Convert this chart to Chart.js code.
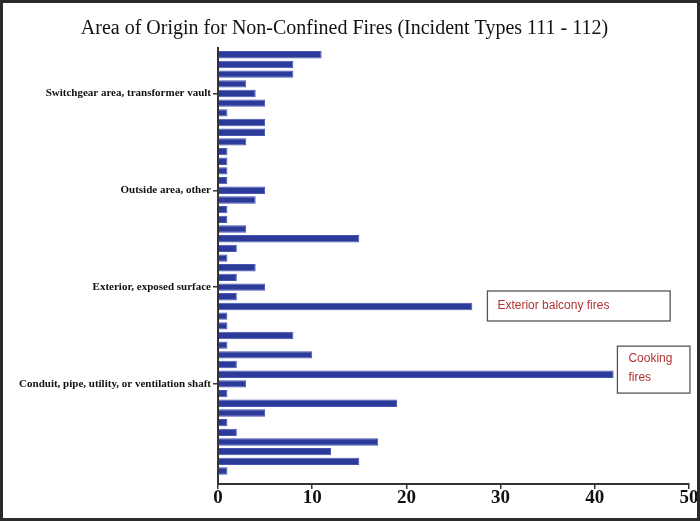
<!DOCTYPE html>
<html><head><meta charset="utf-8">
<script src="https://cdn.jsdelivr.net/npm/chart.js@4/dist/chart.umd.min.js"></script>
<style>
html,body{margin:0;padding:0;background:#fff;}
#wrap{position:relative;width:700px;height:521px;background:#fff;}
#frame{position:absolute;left:0;top:0;width:700px;height:521px;box-sizing:border-box;border:3px solid #2a2a2a;pointer-events:none;}
canvas{position:absolute;left:0;top:0;}
</style></head><body>
<div id="wrap"><canvas id="c" width="700" height="521"></canvas><div id="frame"></div></div>
<script>
// Category labels (only every 10th is printed in the original)
const categories = [
  '', '', '', '', 'Switchgear area, transformer vault', '', '', '', '', '',
  '', '', '', '', 'Outside area, other', '', '', '', '', '',
  '', '', '', '', 'Exterior, exposed surface', '', '', '', '', '',
  '', '', '', '', 'Conduit, pipe, utility, or ventilation shaft', '', '', '', '', '',
  '', '', '', ''
];
// Number of fires per area of origin (top to bottom)
const values = [
  11, 8, 8, 3, 4, 5, 1, 5, 5, 3,
  1, 1, 1, 1, 5, 4, 1, 1, 3, 15,
  2, 1, 4, 2, 5, 2, 27, 1, 1, 8,
  1, 10, 2, 42, 3, 1, 19, 5, 1, 2,
  17, 12, 15, 1
];
const xTickValues = [0, 10, 20, 30, 40, 50];
const titleText = 'Area of Origin for Non-Confined Fires (Incident Types 111 - 112)';
// Callout boxes anchored in data units
const calloutLines = [['Exterior balcony fires'], ['Cooking', 'fires']];
const calloutX = [[28.6, 48.0], [42.4, 50.1]];
const calloutY = [[24.4, 27.5], [30.1, 34.95]];

const calloutPlugin = {
  id: 'callouts',
  afterDatasetsDraw(chart) {
    const {ctx, scales: {x, y}} = chart;
    ctx.save();
    calloutLines.forEach((lines, i) => {
      const l = x.getPixelForValue(calloutX[i][0]);
      const r = x.getPixelForValue(calloutX[i][1]);
      const t = y.getPixelForValue(calloutY[i][0]);
      const b = y.getPixelForValue(calloutY[i][1]);
      ctx.fillStyle = '#fff';
      ctx.fillRect(l, t, r - l, b - t);
      ctx.strokeStyle = '#555';
      ctx.lineWidth = 1.3;
      ctx.strokeRect(l, t, r - l, b - t);
      ctx.fillStyle = '#b03434';
      ctx.font = '12px "Liberation Sans", Arial, sans-serif';
      ctx.textBaseline = 'middle';
      ctx.textAlign = 'left';
      if (lines.length === 1) {
        ctx.fillText(lines[0], l + 10, (t + b) / 2);
      } else {
        lines.forEach((s, k) => ctx.fillText(s, l + 11, t + 13 + k * 19));
      }
    });
    ctx.restore();
  }
};

new Chart(document.getElementById('c'), {
  type: 'bar',
  data: {
    datasets: [{
      data: values.map((v, i) => ({x: v, y: i})),
      backgroundColor: '#2c3a9a',
      borderColor: '#4757b2',
      borderWidth: 1,
      barPercentage: 0.76,
      categoryPercentage: 1
    }]
  },
  options: {
    indexAxis: 'y',
    responsive: false,
    animation: false,
    devicePixelRatio: 1,
    layout: {padding: {left: 0, right: 11, top: 0, bottom: 0}},
    plugins: {
      legend: {display: false},
      tooltip: {enabled: false},
      title: {
        display: true,
        text: titleText,
        color: '#111',
        font: {family: '"Liberation Serif", "DejaVu Serif", serif', size: 20, weight: 'normal', lineHeight: 1.2},
        padding: {top: 17, bottom: 7}
      }
    },
    scales: {
      x: {
        type: 'linear',
        min: 0, max: 50,
        afterFit: s => { s.height = 37; },
        afterBuildTicks: s => { s.ticks = xTickValues.map(v => ({value: v})); },
        ticks: {
          color: '#111', padding: 0,
          font: {family: '"Liberation Serif", serif', size: 19, weight: 'bold', lineHeight: 1}
        },
        grid: {drawOnChartArea: false, drawTicks: true, tickLength: 5, color: '#333', lineWidth: 1.5},
        border: {color: '#333', width: 2}
      },
      y: {
        type: 'linear',
        reverse: true,
        offset: false,
        min: -0.7, max: 44.34,
        afterFit: s => { s.width = 218; },
        ticks: {
          stepSize: 1, autoSkip: false, includeBounds: false,
          callback: v => categories[v] || '',
          color: '#111', padding: 2,
          font: {family: '"Liberation Serif", serif', size: 11, weight: 'bold'}
        },
        grid: {
          offset: false,
          drawOnChartArea: false, drawTicks: true, tickLength: 5, lineWidth: 1.5,
          color: c => (c.tick && categories[c.tick.value]) ? '#333' : 'rgba(0,0,0,0)'
        },
        border: {color: '#333', width: 2}
      }
    }
  },
  plugins: [calloutPlugin]
});
</script>
</body></html>
